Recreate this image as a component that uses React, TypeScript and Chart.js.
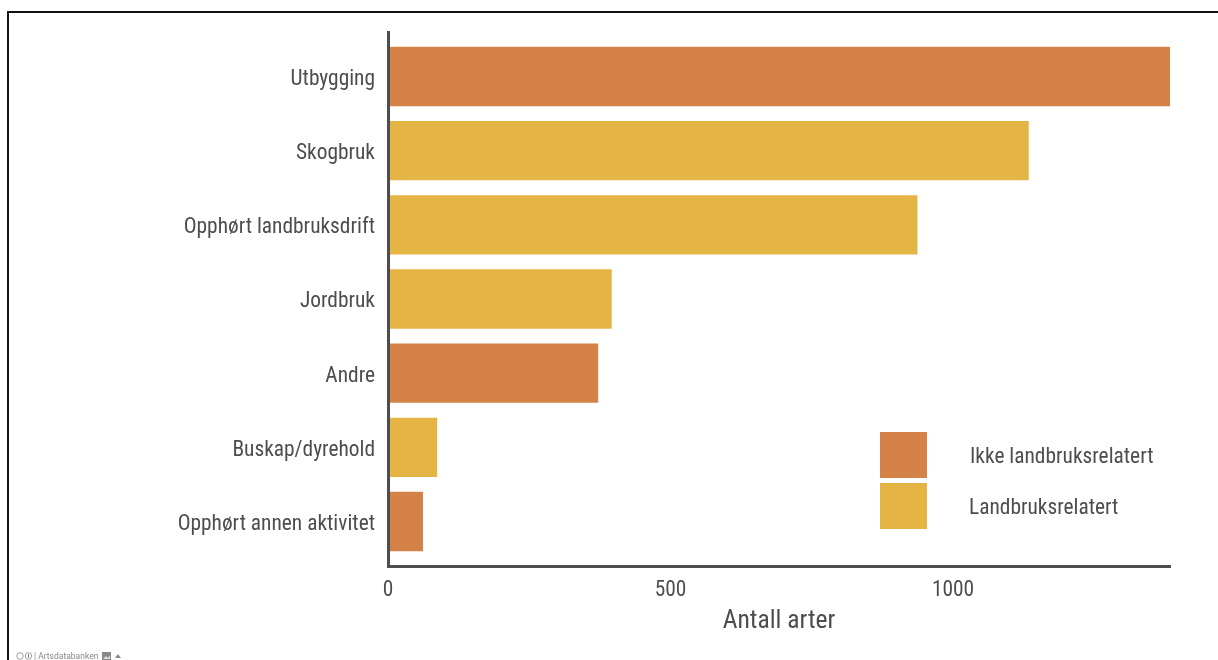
import React, { useEffect, useRef } from "react";
import { Chart, registerables } from "chart.js";

Chart.register(...registerables);

const categories = [
  "Utbygging",
  "Skogbruk",
  "Opphørt landbruksdrift",
  "Jordbruk",
  "Andre",
  "Buskap/dyrehold",
  "Opphørt annen aktivitet",
];
const values = [1384, 1134, 937, 396, 372, 87, 62];
const groupOfCategory = [0, 1, 1, 1, 0, 1, 0];
const seriesNames = ["Ikke landbruksrelatert", "Landbruksrelatert"];
const seriesColors = ["#d48247", "#e4b444"];
const xTicks = [0, 500, 1000];
const xTitle = "Antall arter";
const attribution = "Artsdatabanken";

const FONT = "Roboto, sans-serif";
const TEXT = "#4d4d4d";
const CONDENSED = "condensed";

export default function App() {
  const ref = useRef<HTMLCanvasElement>(null);
  useEffect(() => {
    const chart = new Chart(ref.current as HTMLCanvasElement, {
      type: "bar",
      data: {
        datasets: seriesNames.map((name, s) => ({
          label: name,
          backgroundColor: seriesColors[s],
          data: categories
            .map((_, i) => ({ x: values[i], y: i + 1, g: groupOfCategory[i] }))
            .filter((d) => d.g === s),
        })),
      } as any,
      options: {
        animation: false,
        responsive: false,
        indexAxis: "y",
        categoryPercentage: 1,
        barPercentage: 0.8,
        layout: { padding: { top: 32, right: 48, left: 0, bottom: 0 } },
        plugins: { legend: { display: false }, tooltip: { enabled: false } },
        scales: {
          x: {
            type: "linear",
            stacked: true,
            min: 0,
            max: 1384,
            afterBuildTicks(axis: any) {
              axis.ticks = xTicks.map((value) => ({ value }));
            },
            afterFit(axis: any) {
              axis.height = 94;
            },
            grid: { display: false, drawTicks: false },
            border: { display: true, color: TEXT, width: 3, z: 1 },
            ticks: {
              color: TEXT,
              font: { family: FONT, size: 21.4, weight: CONDENSED },
              padding: 12,
              maxRotation: 0,
              autoSkip: false,
              callback: (v: any) => String(v),
            },
            title: {
              display: true,
              text: xTitle,
              color: TEXT,
              font: { family: FONT, size: 25.6, weight: CONDENSED },
              padding: { top: 2, bottom: 23 },
            },
          },
          y: {
            type: "linear",
            stacked: true,
            reverse: true,
            offset: false,
            min: 0.4,
            max: 7.6,
            afterBuildTicks(axis: any) {
              axis.ticks = categories.map((_, i) => ({ value: i + 1 }));
            },
            afterFit(axis: any) {
              axis.width = 388;
            },
            grid: { display: false, drawTicks: false, offset: false },
            border: { display: true, color: TEXT, width: 3, z: 1 },
            ticks: {
              color: TEXT,
              font: { family: FONT, size: 21.4, weight: CONDENSED },
              padding: 13,
              labelOffset: 3,
              autoSkip: false,
              callback: (v: any) => categories[Number(v) - 1],
            },
          },
        },
      } as any,
    });
    return () => chart.destroy();
  }, []);

  const legendText: React.CSSProperties = {
    position: "absolute",
    fontFamily: FONT,
    fontStretch: "condensed",
    fontSize: 21.4,
    color: TEXT,
    lineHeight: "24px",
    whiteSpace: "nowrap",
  };

  return (
    <div style={{ position: "absolute", left: 0, top: 0, width: 1218, height: 660, overflow: "hidden", background: "#fff" }}>
      <canvas ref={ref} width={1218} height={660} style={{ position: "absolute", left: 0, top: 0, display: "block" }} />
      <div style={{ position: "absolute", left: 7, top: 11, width: 1300, height: 800, border: "2px solid #111", boxSizing: "border-box", pointerEvents: "none" }} />
      <div style={{ position: "absolute", left: 880, top: 432, width: 47, height: 46, background: seriesColors[0] }} />
      <div style={{ position: "absolute", left: 880, top: 483, width: 47, height: 46, background: seriesColors[1] }} />
      <div style={{ ...legendText, left: 970, top: 444 }}>{seriesNames[0]}</div>
      <div style={{ ...legendText, left: 969, top: 495 }}>{seriesNames[1]}</div>
      <div style={{ position: "absolute", left: 16, top: 651, height: 10, display: "flex", alignItems: "center", gap: 1, fontFamily: FONT, fontSize: 8.5, color: "#888", whiteSpace: "nowrap" }}>
        <svg width="17" height="8" viewBox="0 0 17 8">
          <circle cx="4" cy="4" r="3.3" fill="none" stroke="#888" strokeWidth="0.8" />
          <circle cx="12.5" cy="4" r="3.3" fill="none" stroke="#888" strokeWidth="0.8" />
          <path d="M12.5 2v4" stroke="#888" strokeWidth="1" />
        </svg>
        <span>| {attribution}</span>
        <svg width="9" height="8" viewBox="0 0 9 8" style={{ marginLeft: 3 }}>
          <rect x="0" y="0" width="9" height="8" fill="#888" />
          <path d="M1 7l3-3 2 2 2-3v4z" fill="#ddd" />
        </svg>
        <svg width="6" height="4" viewBox="0 0 6 4" style={{ marginLeft: 3 }}>
          <path d="M0 4L3 0l3 4z" fill="#888" />
        </svg>
      </div>
    </div>
  );
}
